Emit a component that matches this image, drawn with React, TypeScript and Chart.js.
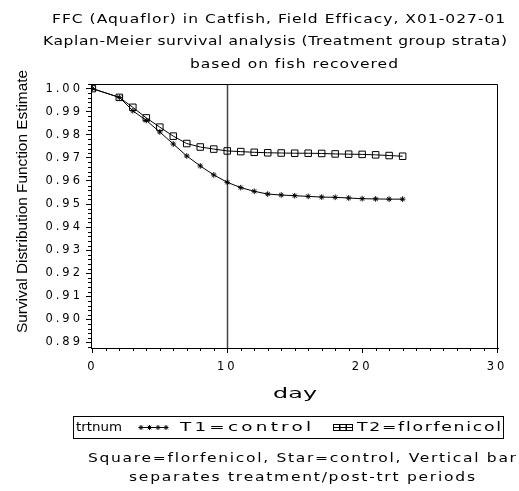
import React, { useEffect, useRef } from 'react';
import { Chart, registerables } from 'chart.js';

Chart.register(...registerables);

// ---------- data ----------
const DAYS = [0, 2, 3, 4, 5, 6, 7, 8, 9, 10, 11, 12, 13, 14, 15, 16, 17, 18, 19, 20, 21, 22, 23];
const T1_CONTROL = [1.0, 0.9962, 0.9904, 0.9862, 0.9812, 0.976, 0.9708, 0.9665, 0.9626, 0.9594, 0.9571, 0.9555, 0.9543, 0.9539, 0.9536, 0.9533, 0.953, 0.9529, 0.9526, 0.9523, 0.9522, 0.9521, 0.9521];
const T2_FLORFENICOL = [1.0, 0.9962, 0.9919, 0.9873, 0.9833, 0.9794, 0.9762, 0.9747, 0.9738, 0.973, 0.9727, 0.9724, 0.9722, 0.9721, 0.972, 0.972, 0.9719, 0.9717, 0.9716, 0.9715, 0.9713, 0.971, 0.9707];
const X_TICKS = [0, 10, 20, 30];
const Y_TICKS = [0.89, 0.9, 0.91, 0.92, 0.93, 0.94, 0.95, 0.96, 0.97, 0.98, 0.99, 1.0];
const X_MINOR_STEP = 1;
const Y_MINOR_STEP = 0.002;
const TREATMENT_END_DAY = 10;

const TITLE_LINES = [
  'FFC (Aquaflor) in Catfish, Field Efficacy, X01-027-01',
  'Kaplan-Meier survival analysis (Treatment group strata)',
  'based on fish recovered',
];
const FOOTNOTES = [
  'Square=florfenicol, Star=control, Vertical bar',
  'separates treatment/post-trt periods',
];
const Y_TITLE = 'Survival Distribution Function Estimate';
const X_TITLE = 'day';
const LEGEND_TITLE = 'trtnum';
const SERIES_LABELS = ['T1=control', 'T2=florfenicol'];

// ---------- helpers ----------
const FONT = "'DejaVu Sans', sans-serif";

function fitText(ctx: CanvasRenderingContext2D, text: string, font: string, left: number, right: number, baseline: number, maxStretch = 1.35) {
  ctx.save();
  ctx.font = font;
  (ctx as any).letterSpacing = '0px';
  const w0 = ctx.measureText(text).width;
  const target = right - left;
  const n = Array.from(text).length;
  const sx = Math.max(0.8, Math.min(maxStretch, target / w0));
  const rest = target - w0 * sx;
  const ls = n > 1 ? rest / (n - 1) / sx : 0;
  ctx.translate(left, baseline);
  ctx.scale(sx, 1);
  (ctx as any).letterSpacing = ls + 'px';
  ctx.textAlign = 'left';
  ctx.textBaseline = 'alphabetic';
  ctx.fillText(text, 0, 0);
  ctx.restore();
}

function drawStar(ctx: CanvasRenderingContext2D, x: number, y: number, r: number) {
  ctx.beginPath();
  ctx.moveTo(x - r, y); ctx.lineTo(x + r, y);
  ctx.moveTo(x, y - r); ctx.lineTo(x, y + r);
  const d = r * Math.SQRT1_2;
  ctx.moveTo(x - d, y - d); ctx.lineTo(x + d, y + d);
  ctx.moveTo(x - d, y + d); ctx.lineTo(x + d, y - d);
  ctx.stroke();
}

const sasPlugin = {
  id: 'sasDecor',
  beforeDraw(chart: any) {
    (chart.ctx as any).letterSpacing = '3px';
  },
  beforeDatasetsDraw(chart: any) {
    const { ctx, chartArea, scales } = chart;
    const { top, bottom, left, right } = chartArea;
    const xs = scales.x;
    const ys = scales.y;
    ctx.save();
    const vx = Math.round(xs.getPixelForValue(TREATMENT_END_DAY)) + 0.5;
    ctx.strokeStyle = '#444';
    ctx.lineWidth = 1.5;
    ctx.beginPath();
    ctx.moveTo(vx, top);
    ctx.lineTo(vx, bottom);
    ctx.stroke();
    ctx.strokeStyle = '#000';
    ctx.lineWidth = 1;
    ctx.beginPath();
    ctx.moveTo(left, Math.round(top) + 0.5);
    ctx.lineTo(Math.round(right) - 0.5, Math.round(top) + 0.5);
    ctx.lineTo(Math.round(right) - 0.5, bottom);
    ctx.stroke();
    ctx.beginPath();
    for (let v = Math.ceil(xs.min / X_MINOR_STEP) * X_MINOR_STEP; v <= xs.max; v += X_MINOR_STEP) {
      if (X_TICKS.some((t) => Math.abs(t - v) < 1e-9)) continue;
      const px = Math.round(xs.getPixelForValue(v)) + 0.5;
      ctx.moveTo(px, bottom);
      ctx.lineTo(px, bottom + 3);
    }
    const i0 = Math.ceil(ys.min / Y_MINOR_STEP - 1e-9);
    const i1 = Math.floor(ys.max / Y_MINOR_STEP + 1e-9);
    for (let i = i0; i <= i1; i++) {
      const v = i * Y_MINOR_STEP;
      if (Y_TICKS.some((t) => Math.abs(t - v) < 1e-9)) continue;
      const py = Math.round(ys.getPixelForValue(v)) + 0.5;
      ctx.moveTo(left - 3, py);
      ctx.lineTo(left, py);
    }
    ctx.stroke();
    ctx.restore();
  },
  afterDraw(chart: any) {
    const ctx: CanvasRenderingContext2D = chart.ctx;
    ctx.save();
    (ctx as any).letterSpacing = '0px';
    ctx.fillStyle = '#000';
    ctx.strokeStyle = '#000';
    const tf = `11.5px ${FONT}`;
    // titles
    fitText(ctx, TITLE_LINES[0], tf, 52, 505, 23);
    fitText(ctx, TITLE_LINES[1], tf, 43, 507, 45);
    fitText(ctx, TITLE_LINES[2], tf, 190, 398, 68);
    // x title
    fitText(ctx, X_TITLE, `14px ${FONT}`, 273, 317, 398, 1.7);
    // y title
    ctx.save();
    ctx.translate(27, 201.5);
    ctx.rotate(-Math.PI / 2);
    fitText(ctx, Y_TITLE, `14px 'Liberation Sans', Arial, sans-serif`, -131.5, 131.5, 0, 1.1);
    ctx.restore();
    // legend box
    ctx.lineWidth = 1;
    ctx.strokeRect(73.5, 416.5, 430, 22);
    fitText(ctx, LEGEND_TITLE, tf, 76, 122, 431);
    ctx.beginPath();
    ctx.moveTo(140, 427.5); ctx.lineTo(167, 427.5);
    ctx.stroke();
    [141, 149.5, 158, 166].forEach((sx) => drawStar(ctx, sx, 427.5, 2.5));
    fitText(ctx, SERIES_LABELS[0], tf, 180, 311, 431, 1.6);
    ctx.beginPath();
    ctx.moveTo(333, 427.5); ctx.lineTo(353, 427.5);
    ctx.stroke();
    [336.5, 343, 349.5].forEach((sx) => ctx.strokeRect(sx - 3, 424.5, 6, 6));
    fitText(ctx, SERIES_LABELS[1], tf, 357, 501, 431, 1.5);
    // footnotes
    fitText(ctx, FOOTNOTES[0], tf, 88, 516, 462);
    fitText(ctx, FOOTNOTES[1], tf, 129, 475, 481);
    ctx.restore();
  },
};

export default function App() {
  const ref = useRef<HTMLCanvasElement>(null);
  useEffect(() => {
    if (!ref.current) return;
    const chart = new Chart(ref.current, {
      type: 'scatter',
      data: {
        datasets: [
          {
            label: SERIES_LABELS[0],
            data: DAYS.map((d, i) => ({ x: d, y: T1_CONTROL[i] })),
            showLine: true,
            borderColor: '#000',
            borderWidth: 1,
            pointStyle: 'star',
            pointRadius: 2.8,
            pointBorderColor: '#000',
            pointBorderWidth: 1,
            pointBackgroundColor: '#000',
            tension: 0,
          },
          {
            label: SERIES_LABELS[1],
            data: DAYS.map((d, i) => ({ x: d, y: T2_FLORFENICOL[i] })),
            showLine: true,
            borderColor: '#000',
            borderWidth: 1,
            pointStyle: 'rect',
            pointRadius: 4.6,
            pointBorderColor: '#000',
            pointBorderWidth: 1,
            pointBackgroundColor: 'rgba(0,0,0,0)',
            tension: 0,
          },
        ],
      },
      options: {
        responsive: false,
        animation: false,
        devicePixelRatio: 1,
        layout: { padding: { left: 0, top: 84, right: 21, bottom: 113 } },
        plugins: {
          legend: { display: false },
          title: { display: false },
          tooltip: { enabled: false },
        },
        scales: {
          x: {
            type: 'linear',
            min: -0.1,
            max: 30.07,
            afterBuildTicks: (scale: any) => {
              scale.ticks = X_TICKS.map((v) => ({ value: v }));
            },
            afterFit: (scale: any) => {
              scale.height = 30;
              scale.paddingLeft = 0;
              scale.paddingRight = 0;
            },
            grid: { drawOnChartArea: false, drawTicks: true, tickLength: 5, color: '#000' },
            border: { display: true, color: '#000', width: 1 },
            ticks: {
              color: '#000',
              font: { family: 'DejaVu Sans', size: 11.5 },
              padding: 7,
              maxRotation: 0,
              callback: (v: any) => String(v),
            },
          },
          y: {
            type: 'linear',
            min: 0.8876,
            max: 1.002,
            afterBuildTicks: (scale: any) => {
              scale.ticks = Y_TICKS.map((v) => ({ value: v }));
            },
            afterFit: (scale: any) => {
              scale.width = 91;
              scale.paddingTop = 0;
              scale.paddingBottom = 0;
            },
            grid: { drawOnChartArea: false, drawTicks: true, tickLength: 5, color: '#000' },
            border: { display: true, color: '#000', width: 1 },
            ticks: {
              color: '#000',
              font: { family: 'DejaVu Sans', size: 11.5 },
              padding: 3,
              callback: (v: any) => Number(v).toFixed(2),
            },
          },
        },
      },
      plugins: [sasPlugin],
    } as any);
    return () => chart.destroy();
  }, []);
  return (
    <div style={{ position: 'fixed', left: 0, top: 0, width: 519, height: 491, background: '#fff' }}>
      <canvas ref={ref} width={519} height={491} style={{ display: 'block', width: 519, height: 491 }} />
    </div>
  );
}
